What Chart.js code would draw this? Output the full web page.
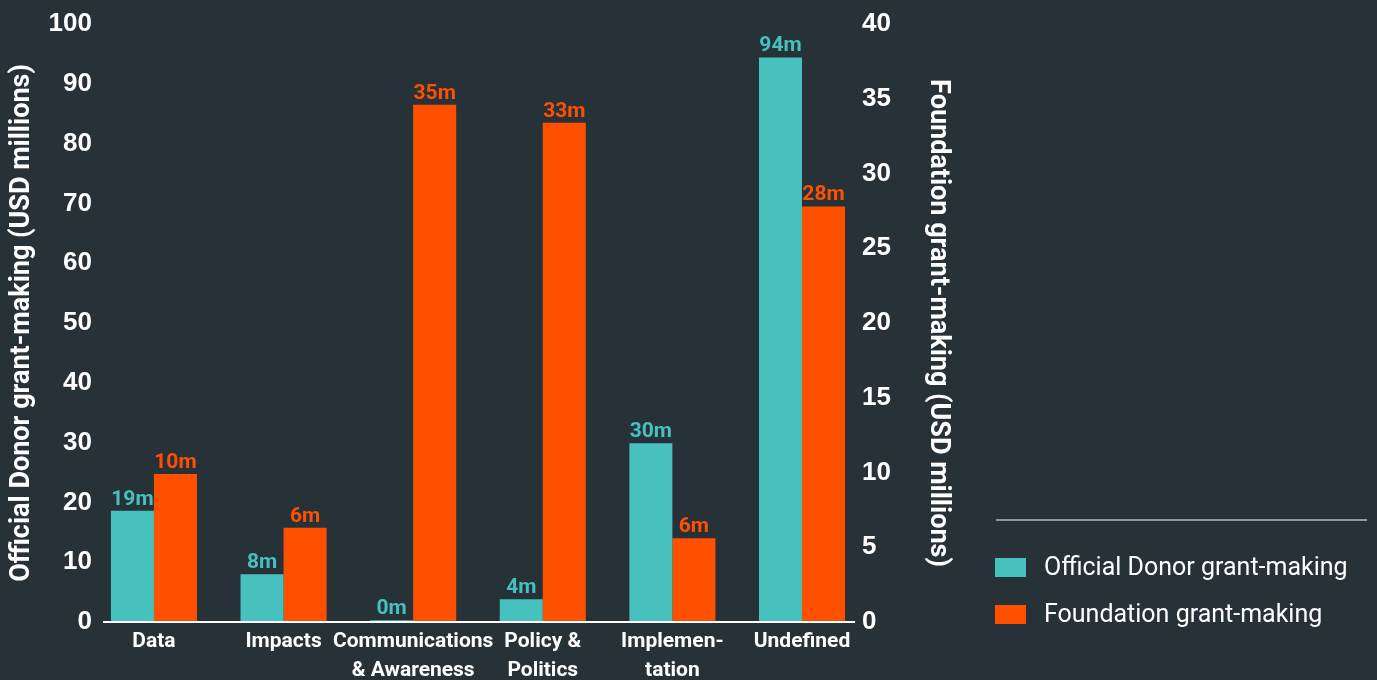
<!DOCTYPE html>
<html>
<head>
<meta charset="utf-8">
<script src="https://cdn.jsdelivr.net/npm/chart.js@4/dist/chart.umd.min.js"></script>
<style>
  html, body { margin: 0; padding: 0; background: #263238; }
  canvas { display: block; }
</style>
</head>
<body>
<canvas id="grantChart" width="1377" height="680"></canvas>
<script>
// Categories and values (USD millions)
const categories = ['Data', 'Impacts', ['Communications', '& Awareness'], ['Policy &', 'Politics'], ['Implemen-', 'tation'], 'Undefined'];
const officialDonor = [18.6, 8.0, 0.3, 3.8, 29.9, 94.4];
const foundation = [9.9, 6.3, 34.6, 33.4, 5.6, 27.8];
const leftTicks = [0, 10, 20, 30, 40, 50, 60, 70, 80, 90, 100];
const rightTicks = [0, 5, 10, 15, 20, 25, 30, 35, 40];

const TEAL = '#47c1bd';
const ORANGE = '#ff5000';
const LABEL_FONT = 'Roboto, "Noto Sans", sans-serif';
const TICK_FONT = '"Liberation Sans", Arial, sans-serif';

// categories sit on a numeric x axis (index 0..5) so the outer margins can be uneven
const toPoints = values => values.map((v, i) => ({ x: i, y: v }));

// value labels above each bar, e.g. "19m"
const barLabels = {
    id: 'barLabels',
    afterDatasetsDraw(chart) {
        const ctx = chart.ctx;
        ctx.save();
        ctx.font = 'bold 21px ' + LABEL_FONT;
        ctx.textAlign = 'center';
        ctx.textBaseline = 'alphabetic';
        chart.data.datasets.forEach((ds, i) => {
            const meta = chart.getDatasetMeta(i);
            ctx.fillStyle = ds.backgroundColor;
            meta.data.forEach((bar, j) => {
                ctx.fillText(Math.round(ds.data[j].y) + 'm', bar.x, bar.y - 6);
            });
        });
        ctx.restore();
    }
};

// baseline under the bars
const baseline = {
    id: 'baseline',
    afterDatasetsDraw(chart) {
        const {ctx, chartArea} = chart;
        ctx.save();
        ctx.strokeStyle = '#ffffff';
        ctx.lineWidth = 2;
        ctx.beginPath();
        ctx.moveTo(chartArea.left + 11, chartArea.bottom);
        ctx.lineTo(chartArea.right - 7, chartArea.bottom);
        ctx.stroke();
        ctx.restore();
    }
};

// legend on the right with a rule above it
const sideLegend = {
    id: 'sideLegend',
    afterDraw(chart) {
        const ctx = chart.ctx;
        const x0 = 996;
        ctx.save();
        ctx.strokeStyle = '#8e989d';
        ctx.lineWidth = 2;
        ctx.beginPath();
        ctx.moveTo(x0, 520);
        ctx.lineTo(1367, 520);
        ctx.stroke();
        ctx.font = '25px ' + LABEL_FONT;
        ctx.textBaseline = 'middle';
        chart.data.datasets.forEach((ds, i) => {
            const y = 568 + i * 47;
            ctx.fillStyle = ds.backgroundColor;
            ctx.fillRect(x0 - 1, y - 10, 31, 19);
            ctx.fillStyle = '#ffffff';
            ctx.fillText(ds.label, 1044, y + 1);
        });
        ctx.restore();
    }
};

new Chart(document.getElementById('grantChart'), {
    type: 'bar',
    data: {
        datasets: [
            {
                label: 'Official Donor grant-making',
                data: toPoints(officialDonor),
                backgroundColor: TEAL,
                yAxisID: 'yLeft',
                categoryPercentage: 0.664,
                barPercentage: 1.0
            },
            {
                label: 'Foundation grant-making',
                data: toPoints(foundation),
                backgroundColor: ORANGE,
                yAxisID: 'yRight',
                categoryPercentage: 0.664,
                barPercentage: 1.0
            }
        ]
    },
    options: {
        responsive: false,
        animation: false,
        layout: { padding: { top: 24, right: 423, bottom: 0, left: 0 } },
        plugins: {
            legend: { display: false },
            tooltip: { enabled: false }
        },
        scales: {
            x: {
                type: 'linear',
                offset: false,
                min: -0.478,
                max: 5.463,
                grid: { display: false, drawTicks: false },
                border: { display: false },
                afterFit(scale) { scale.height = 58; },
                afterBuildTicks(scale) { scale.ticks = categories.map((c, i) => ({ value: i })); },
                ticks: {
                    color: '#ffffff',
                    padding: 6,
                    maxRotation: 0,
                    autoSkip: false,
                    callback: value => categories[value],
                    font: { family: LABEL_FONT, size: 21, weight: 'bold', lineHeight: 1.35 }
                }
            },
            yLeft: {
                position: 'left',
                min: 0,
                max: 100,
                grid: { display: false, drawTicks: false },
                border: { display: false },
                afterFit(scale) { scale.width = 92; },
                afterBuildTicks(scale) { scale.ticks = leftTicks.map(v => ({ value: v })); },
                ticks: {
                    color: '#ffffff',
                    padding: 0,
                    font: { family: TICK_FONT, size: 26, weight: 'bold' }
                },
                title: {
                    display: true,
                    text: 'Official Donor grant-making (USD millions)',
                    color: '#ffffff',
                    padding: { top: 6, bottom: 0 },
                    font: { family: LABEL_FONT, size: 27, weight: 'bold', lineHeight: 1.2 }
                }
            },
            yRight: {
                position: 'right',
                min: 0,
                max: 40,
                grid: { display: false, drawTicks: false },
                border: { display: false },
                afterFit(scale) { scale.width = 92; },
                afterBuildTicks(scale) { scale.ticks = rightTicks.map(v => ({ value: v })); },
                ticks: {
                    color: '#ffffff',
                    padding: 0,
                    font: { family: TICK_FONT, size: 26, weight: 'bold' }
                },
                title: {
                    display: true,
                    text: 'Foundation grant-making (USD millions)',
                    color: '#ffffff',
                    padding: { top: 0, bottom: 0 },
                    font: { family: LABEL_FONT, size: 27, weight: 'bold', lineHeight: 1.2 }
                }
            }
        }
    },
    plugins: [barLabels, baseline, sideLegend]
});
</script>
</body>
</html>
